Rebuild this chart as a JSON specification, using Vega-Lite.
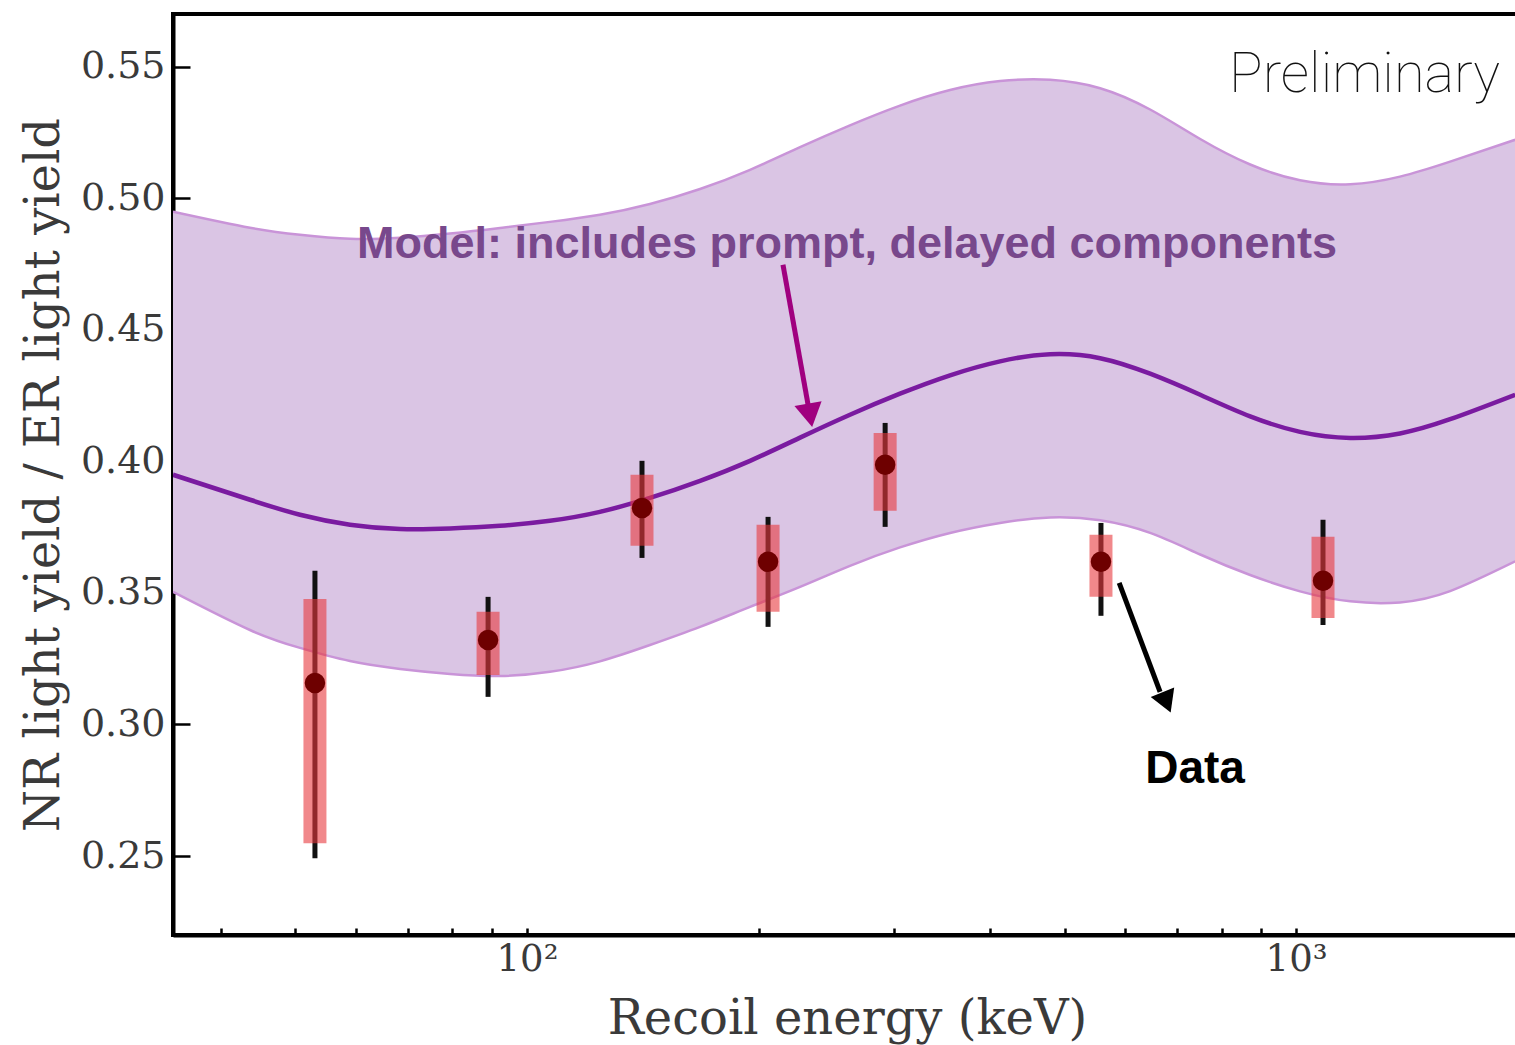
{
  "$schema": "https://vega.github.io/schema/vega-lite/v6.json",
  "width": 1348,
  "height": 921,
  "autosize": "none",
  "padding": {"left": 173, "top": 14, "right": 0, "bottom": 110},
  "background": "white",
  "config": {
    "view": {"stroke": "black", "strokeWidth": 4},
    "axis": {"grid": false, "zindex": 1}
  },
  "datasets": {
    "curve": [
      {"E": 34.65, "mid": 0.3949, "lo": 0.3504, "hi": 0.4949},
      {"E": 43.63, "mid": 0.3854, "lo": 0.3359, "hi": 0.4888},
      {"E": 50.68, "mid": 0.3797, "lo": 0.3291, "hi": 0.4861},
      {"E": 58.86, "mid": 0.3759, "lo": 0.3241, "hi": 0.4846},
      {"E": 68.38, "mid": 0.3743, "lo": 0.3211, "hi": 0.4850},
      {"E": 79.43, "mid": 0.3745, "lo": 0.3192, "hi": 0.4866},
      {"E": 92.24, "mid": 0.3755, "lo": 0.3184, "hi": 0.4887},
      {"E": 107.1, "mid": 0.3774, "lo": 0.3200, "hi": 0.4910},
      {"E": 124.4, "mid": 0.3808, "lo": 0.3240, "hi": 0.4937},
      {"E": 144.5, "mid": 0.3861, "lo": 0.3302, "hi": 0.4978},
      {"E": 167.9, "mid": 0.3926, "lo": 0.3371, "hi": 0.5035},
      {"E": 195.0, "mid": 0.4002, "lo": 0.3447, "hi": 0.5108},
      {"E": 226.5, "mid": 0.4090, "lo": 0.3523, "hi": 0.5194},
      {"E": 263.0, "mid": 0.4177, "lo": 0.3603, "hi": 0.5277},
      {"E": 305.5, "mid": 0.4257, "lo": 0.3673, "hi": 0.5352},
      {"E": 354.9, "mid": 0.4327, "lo": 0.3728, "hi": 0.5411},
      {"E": 412.2, "mid": 0.4380, "lo": 0.3766, "hi": 0.5445},
      {"E": 478.8, "mid": 0.4407, "lo": 0.3787, "hi": 0.5450},
      {"E": 556.2, "mid": 0.4392, "lo": 0.3776, "hi": 0.5418},
      {"E": 646.0, "mid": 0.4333, "lo": 0.3728, "hi": 0.5337},
      {"E": 750.5, "mid": 0.4253, "lo": 0.3646, "hi": 0.5225},
      {"E": 871.6, "mid": 0.4171, "lo": 0.3568, "hi": 0.5128},
      {"E": 1012, "mid": 0.4112, "lo": 0.3506, "hi": 0.5068},
      {"E": 1176, "mid": 0.4089, "lo": 0.3468, "hi": 0.5053},
      {"E": 1365, "mid": 0.4106, "lo": 0.3464, "hi": 0.5082},
      {"E": 1586, "mid": 0.4160, "lo": 0.3507, "hi": 0.5139},
      {"E": 1927, "mid": 0.4253, "lo": 0.3620, "hi": 0.5222}
    ],
    "points": [
      {"E": 53.0, "v": 0.3158, "elo": 0.2492, "ehi": 0.3584, "rlo": 0.2549, "rhi": 0.3477},
      {"E": 89.0, "v": 0.3321, "elo": 0.3105, "ehi": 0.3485, "rlo": 0.3188, "rhi": 0.3428},
      {"E": 141.1, "v": 0.3823, "elo": 0.3633, "ehi": 0.4002, "rlo": 0.3679, "rhi": 0.3949},
      {"E": 205.8, "v": 0.3618, "elo": 0.3371, "ehi": 0.3789, "rlo": 0.3428, "rhi": 0.3759},
      {"E": 292.2, "v": 0.3987, "elo": 0.3751, "ehi": 0.4146, "rlo": 0.3812, "rhi": 0.4108},
      {"E": 557.6, "v": 0.3618, "elo": 0.3413, "ehi": 0.3766, "rlo": 0.3485, "rhi": 0.3721},
      {"E": 1084, "v": 0.3546, "elo": 0.3378, "ehi": 0.3778, "rlo": 0.3405, "rhi": 0.3713}
    ]
  },
  "layer": [
    {
      "data": {"name": "curve"},
      "mark": {"type": "area", "interpolate": "natural", "fill": "#dac5e4", "clip": true},
      "encoding": {
        "x": {
          "field": "E", "type": "quantitative",
          "scale": {"type": "log", "domain": [34.65, 1961], "nice": false},
          "axis": {
            "title": "Recoil energy (keV)",
            "values": [40, 50, 60, 70, 80, 90, 100, 200, 300, 400, 500, 600, 700, 800, 900, 1000],
            "labelExpr": "datum.value == 100 ? '10²' : datum.value == 1000 ? '10³' : ''",
            "labelOverlap": false,
            "labelFlush": false,
            "tickSize": -7,
            "tickWidth": 2.5,
            "tickColor": "black",
            "labelPadding": 13,
            "labelFont": "DejaVu Serif",
            "labelFontSize": 37,
            "labelColor": "#3a3a3a",
            "titleFont": "DejaVu Serif",
            "titleFontSize": 48,
            "titleFontWeight": "normal",
            "titleColor": "#3a3a3a",
            "titlePadding": 18,
            "domainColor": "black",
            "domainWidth": 4,
            "encode": {"ticks": {"update": {"y2": {"signal": "datum.value == 100 || datum.value == 1000 ? -17 : -7"}}}}
          }
        },
        "y": {
          "field": "lo", "type": "quantitative",
          "scale": {"domain": [0.22, 0.57], "nice": false, "zero": false},
          "axis": {
            "title": "NR light yield / ER light yield",
            "values": [0.25, 0.3, 0.35, 0.4, 0.45, 0.5, 0.55],
            "format": ".2f",
            "tickSize": -17,
            "tickWidth": 2.5,
            "tickColor": "black",
            "labelPadding": 25,
            "labelFont": "DejaVu Serif",
            "labelFontSize": 38,
            "labelColor": "#3a3a3a",
            "titleFont": "DejaVu Serif",
            "titleFontSize": 48,
            "titleFontWeight": "normal",
            "titleColor": "#3a3a3a",
            "titlePadding": 12,
            "domainColor": "black",
            "domainWidth": 4
          }
        },
        "y2": {"field": "hi"}
      }
    },
    {
      "data": {"name": "curve"},
      "mark": {"type": "line", "interpolate": "natural", "stroke": "#c994d8", "strokeWidth": 2.5, "clip": true},
      "encoding": {
        "x": {"field": "E", "type": "quantitative", "scale": {"type": "log", "domain": [34.65, 1961], "nice": false}},
        "y": {"field": "lo", "type": "quantitative", "scale": {"domain": [0.22, 0.57], "nice": false, "zero": false}}
      }
    },
    {
      "data": {"name": "curve"},
      "mark": {"type": "line", "interpolate": "natural", "stroke": "#c994d8", "strokeWidth": 2.5, "clip": true},
      "encoding": {
        "x": {"field": "E", "type": "quantitative", "scale": {"type": "log", "domain": [34.65, 1961], "nice": false}},
        "y": {"field": "hi", "type": "quantitative", "scale": {"domain": [0.22, 0.57], "nice": false, "zero": false}}
      }
    },
    {
      "data": {"name": "curve"},
      "mark": {"type": "line", "interpolate": "natural", "stroke": "#7a1ba0", "strokeWidth": 4.5, "clip": true},
      "encoding": {
        "x": {"field": "E", "type": "quantitative", "scale": {"type": "log", "domain": [34.65, 1961], "nice": false}},
        "y": {"field": "mid", "type": "quantitative", "scale": {"domain": [0.22, 0.57], "nice": false, "zero": false}}
      }
    },
    {
      "data": {"name": "points"},
      "mark": {"type": "rule", "stroke": "#111111", "strokeWidth": 5},
      "encoding": {
        "x": {"field": "E", "type": "quantitative", "scale": {"type": "log", "domain": [34.65, 1961], "nice": false}},
        "y": {"field": "elo", "type": "quantitative", "scale": {"domain": [0.22, 0.57], "nice": false, "zero": false}},
        "y2": {"field": "ehi"}
      }
    },
    {
      "data": {"name": "points"},
      "mark": {"type": "rule", "stroke": "#e8383d", "strokeOpacity": 0.6, "strokeWidth": 23, "strokeCap": "butt"},
      "encoding": {
        "x": {"field": "E", "type": "quantitative", "scale": {"type": "log", "domain": [34.65, 1961], "nice": false}},
        "y": {"field": "rlo", "type": "quantitative", "scale": {"domain": [0.22, 0.57], "nice": false, "zero": false}},
        "y2": {"field": "rhi"}
      }
    },
    {
      "data": {"name": "points"},
      "mark": {"type": "point", "shape": "circle", "filled": true, "fill": "#6e0000", "opacity": 1, "size": 420, "strokeWidth": 0},
      "encoding": {
        "x": {"field": "E", "type": "quantitative", "scale": {"type": "log", "domain": [34.65, 1961], "nice": false}},
        "y": {"field": "v", "type": "quantitative", "scale": {"domain": [0.22, 0.57], "nice": false, "zero": false}}
      }
    },
    {
      "data": {"values": [{"E": 215.2, "v": 0.4747, "E2": 232.0, "v2": 0.4215}]},
      "mark": {"type": "rule", "stroke": "#a0007f", "strokeWidth": 5},
      "encoding": {
        "x": {"field": "E", "type": "quantitative", "scale": {"type": "log", "domain": [34.65, 1961], "nice": false}},
        "y": {"field": "v", "type": "quantitative", "scale": {"domain": [0.22, 0.57], "nice": false, "zero": false}},
        "x2": {"field": "E2"},
        "y2": {"field": "v2"}
      }
    },
    {
      "data": {"values": [{"E": 233.4, "v": 0.4175}]},
      "mark": {"type": "point", "shape": "triangle-down", "filled": true, "fill": "#a0007f", "opacity": 1, "size": 760, "angle": 350, "strokeWidth": 0},
      "encoding": {
        "x": {"field": "E", "type": "quantitative", "scale": {"type": "log", "domain": [34.65, 1961], "nice": false}},
        "y": {"field": "v", "type": "quantitative", "scale": {"domain": [0.22, 0.57], "nice": false, "zero": false}}
      }
    },
    {
      "data": {"values": [{"E": 588.8, "v": 0.3538, "E2": 665.6, "v2": 0.3124}]},
      "mark": {"type": "rule", "stroke": "black", "strokeWidth": 5},
      "encoding": {
        "x": {"field": "E", "type": "quantitative", "scale": {"type": "log", "domain": [34.65, 1961], "nice": false}},
        "y": {"field": "v", "type": "quantitative", "scale": {"domain": [0.22, 0.57], "nice": false, "zero": false}},
        "x2": {"field": "E2"},
        "y2": {"field": "v2"}
      }
    },
    {
      "data": {"values": [{"E": 678.6, "v": 0.3084}]},
      "mark": {"type": "point", "shape": "triangle-down", "filled": true, "fill": "black", "opacity": 1, "size": 640, "angle": 338, "strokeWidth": 0},
      "encoding": {
        "x": {"field": "E", "type": "quantitative", "scale": {"type": "log", "domain": [34.65, 1961], "nice": false}},
        "y": {"field": "v", "type": "quantitative", "scale": {"domain": [0.22, 0.57], "nice": false, "zero": false}}
      }
    },
    {
      "data": {"values": [{"E": 60.1, "v": 0.4774, "label": "Model: includes prompt, delayed components"}]},
      "mark": {"type": "text", "align": "left", "baseline": "alphabetic", "font": "Liberation Sans", "fontWeight": "bold", "fontSize": 45, "fill": "#78488c"},
      "encoding": {
        "x": {"field": "E", "type": "quantitative", "scale": {"type": "log", "domain": [34.65, 1961], "nice": false}},
        "y": {"field": "v", "type": "quantitative", "scale": {"domain": [0.22, 0.57], "nice": false, "zero": false}},
        "text": {"field": "label"}
      }
    },
    {
      "data": {"values": [{"E": 739, "v": 0.2778, "label": "Data"}]},
      "mark": {"type": "text", "align": "center", "baseline": "alphabetic", "font": "Liberation Sans", "fontWeight": "bold", "fontSize": 46, "fill": "black"},
      "encoding": {
        "x": {"field": "E", "type": "quantitative", "scale": {"type": "log", "domain": [34.65, 1961], "nice": false}},
        "y": {"field": "v", "type": "quantitative", "scale": {"domain": [0.22, 0.57], "nice": false, "zero": false}},
        "text": {"field": "label"}
      }
    },
    {
      "data": {"values": [{"E": 1842, "v": 0.5405, "label": "Preliminary"}]},
      "mark": {"type": "text", "align": "right", "baseline": "alphabetic", "font": "Roboto", "fontWeight": 100, "fontSize": 56, "fill": "#111111"},
      "encoding": {
        "x": {"field": "E", "type": "quantitative", "scale": {"type": "log", "domain": [34.65, 1961], "nice": false}},
        "y": {"field": "v", "type": "quantitative", "scale": {"domain": [0.22, 0.57], "nice": false, "zero": false}},
        "text": {"field": "label"}
      }
    }
  ]
}
